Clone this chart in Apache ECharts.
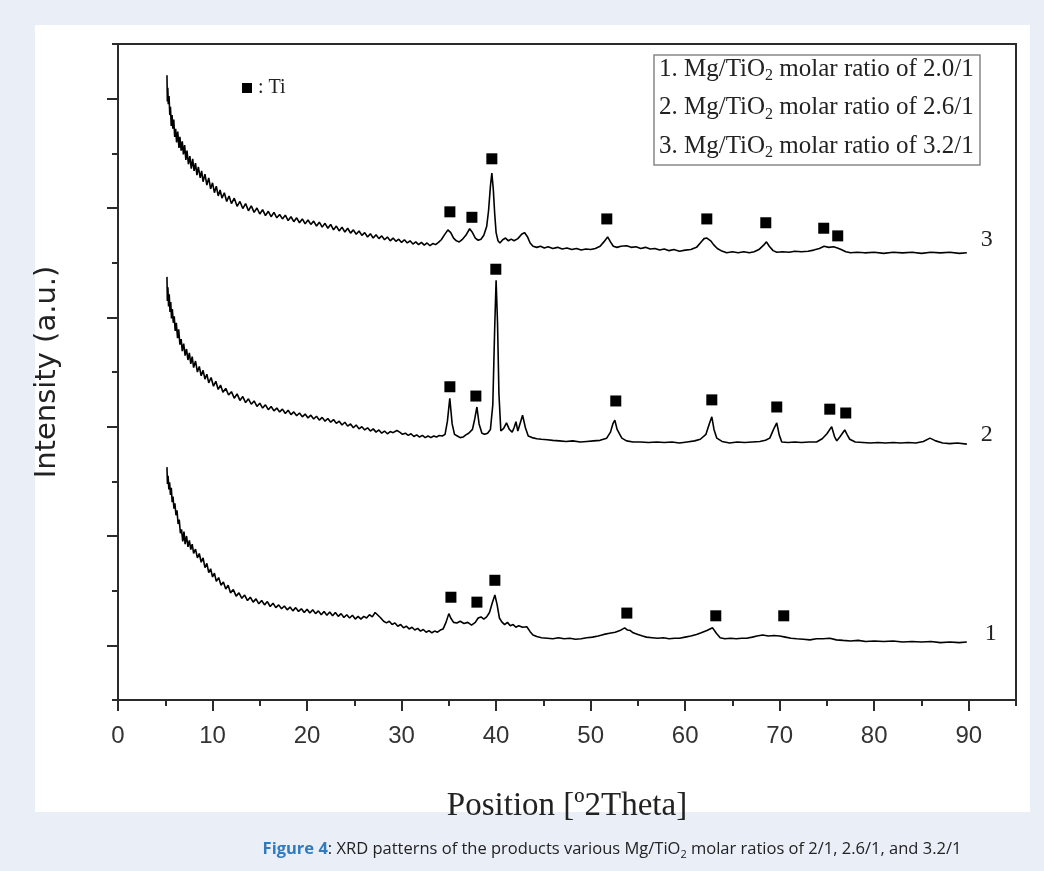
<!DOCTYPE html>
<html>
<head>
<meta charset="utf-8">
<script src="https://cdn.jsdelivr.net/npm/echarts@6.0.0/dist/echarts.min.js"></script>
<style>
html,body{margin:0;padding:0;background:#e9eef7;}
#panel{position:absolute;left:35px;top:25px;width:995px;height:787px;background:#fff;}
#xrd{position:absolute;left:0;top:0;width:1044px;height:871px;}
</style>
</head>
<body>
<div id="panel"></div>
<div id="xrd"></div>
<script>
// tick positions
var xMajor=[0,10,20,30,40,50,60,70,80,90];
var xMinor=[5,15,25,35,45,55,65,75,85,95];
var yMajor=[1,3,5,7,9,11];
var yMinor=[0,2,4,6,8,10,12];

// sample 3 : Mg/TiO2 = 3.2/1 (top trace, offset)
var curve3=[[5.18,11.43],[5.22,10.95],[5.27,11.2],[5.32,10.9],[5.4,11.05],[5.48,10.7],[5.55,10.85],[5.63,10.5],[5.72,10.7],[5.8,10.45],[5.9,10.62],[6.0,10.3],[6.1,10.45],[6.2,10.2],[6.32,10.4],[6.45,10.1],[6.55,10.3],[6.68,10.05],[6.8,10.22],[6.92,9.98],[7.05,10.15],[7.18,9.88],[7.3,10.05],[7.45,9.8],[7.6,9.95],[7.75,9.72],[7.9,9.9],[8.05,9.68],[8.2,9.82],[8.35,9.6],[8.5,9.75],[8.7,9.55],[8.85,9.68],[9.0,9.48],[9.2,9.62],[9.4,9.42],[9.6,9.55],[9.8,9.35],[10.0,9.46],[10.2,9.28],[10.4,9.4],[10.6,9.22],[10.8,9.33],[11.0,9.18],[11.25,9.28],[11.5,9.12],[11.75,9.22],[12.0,9.08],[12.3,9.18],[12.6,9.03],[12.9,9.12],[13.2,8.99],[13.5,9.08],[13.8,8.95],[14.1,9.04],[14.4,8.92],[14.7,9.0],[15.0,8.89],[15.3,8.97],[15.6,8.86],[15.9,8.94],[16.2,8.84],[16.5,8.92],[16.8,8.82],[17.1,8.88],[17.4,8.8],[17.7,8.87],[18.0,8.77],[18.3,8.84],[18.6,8.75],[18.9,8.82],[19.2,8.73],[19.5,8.8],[19.8,8.71],[20.1,8.78],[20.4,8.7],[20.7,8.76],[21.0,8.67],[21.3,8.74],[21.6,8.65],[21.9,8.72],[22.2,8.63],[22.5,8.7],[22.8,8.6],[23.1,8.67],[23.4,8.58],[23.7,8.65],[24.0,8.56],[24.3,8.63],[24.6,8.54],[24.9,8.6],[25.2,8.52],[25.5,8.58],[25.8,8.5],[26.1,8.55],[26.4,8.47],[26.7,8.53],[27.0,8.45],[27.3,8.51],[27.6,8.44],[27.9,8.49],[28.2,8.42],[28.5,8.47],[28.8,8.4],[29.1,8.45],[29.4,8.39],[29.7,8.43],[30.0,8.37],[30.3,8.42],[30.6,8.36],[30.9,8.4],[31.2,8.34],[31.5,8.38],[31.8,8.33],[32.1,8.37],[32.4,8.32],[32.7,8.36],[33.0,8.31],[33.3,8.35],[33.6,8.33],[33.9,8.37],[34.2,8.42],[34.5,8.5],[34.9,8.6],[35.2,8.55],[35.5,8.45],[35.8,8.4],[36.1,8.38],[36.4,8.42],[36.8,8.5],[37.2,8.62],[37.5,8.55],[37.8,8.45],[38.1,8.41],[38.4,8.43],[38.7,8.5],[39.0,8.66],[39.2,8.95],[39.4,9.4],[39.55,9.64],[39.7,9.35],[39.85,8.9],[40.0,8.55],[40.2,8.4],[40.4,8.36],[40.7,8.42],[41.0,8.45],[41.3,8.4],[41.6,8.43],[41.9,8.4],[42.3,8.44],[42.7,8.52],[43.0,8.55],[43.3,8.48],[43.6,8.36],[43.9,8.3],[44.3,8.28],[44.7,8.3],[45.1,8.27],[45.5,8.29],[46.0,8.26],[46.5,8.28],[47.0,8.25],[47.5,8.27],[48.0,8.24],[48.5,8.26],[49.0,8.23],[49.5,8.25],[50.0,8.24],[50.5,8.26],[51.0,8.3],[51.4,8.38],[51.8,8.47],[52.1,8.38],[52.4,8.3],[52.8,8.28],[53.2,8.3],[53.8,8.31],[54.3,8.28],[54.8,8.29],[55.3,8.26],[55.8,8.28],[56.3,8.25],[56.8,8.26],[57.3,8.23],[57.8,8.25],[58.3,8.22],[58.8,8.24],[59.4,8.21],[60.0,8.23],[60.6,8.24],[61.2,8.28],[61.6,8.36],[62.0,8.44],[62.3,8.45],[62.7,8.4],[63.0,8.33],[63.4,8.26],[63.8,8.22],[64.4,8.18],[65.0,8.2],[65.6,8.18],[66.2,8.2],[66.8,8.18],[67.3,8.2],[67.8,8.24],[68.3,8.32],[68.6,8.38],[68.9,8.3],[69.3,8.22],[69.7,8.19],[70.3,8.2],[71.0,8.19],[71.6,8.21],[72.3,8.2],[73.0,8.21],[73.6,8.23],[74.2,8.26],[74.7,8.3],[75.2,8.28],[75.7,8.29],[76.1,8.27],[76.5,8.24],[77.0,8.2],[77.5,8.18],[78.2,8.19],[79.0,8.18],[80.0,8.19],[81.0,8.17],[82.0,8.19],[83.0,8.18],[84.0,8.19],[85.0,8.17],[86.0,8.19],[87.0,8.18],[88.0,8.19],[89.0,8.17],[89.8,8.18]];

// sample 2 : Mg/TiO2 = 2.6/1
var curve2=[[5.18,7.74],[5.22,7.3],[5.28,7.55],[5.35,7.2],[5.42,7.42],[5.5,7.1],[5.58,7.28],[5.66,6.98],[5.75,7.15],[5.85,6.9],[5.95,7.02],[6.05,6.75],[6.17,6.9],[6.3,6.62],[6.42,6.78],[6.55,6.5],[6.68,6.6],[6.8,6.38],[6.95,6.52],[7.1,6.3],[7.25,6.42],[7.4,6.22],[7.55,6.35],[7.7,6.15],[7.85,6.28],[8.0,6.08],[8.2,6.2],[8.4,6.0],[8.6,6.1],[8.8,5.93],[9.0,6.03],[9.2,5.87],[9.4,5.96],[9.6,5.8],[9.85,5.9],[10.1,5.74],[10.35,5.83],[10.6,5.68],[10.85,5.76],[11.1,5.63],[11.4,5.7],[11.7,5.58],[12.0,5.64],[12.3,5.52],[12.6,5.6],[12.9,5.48],[13.2,5.55],[13.5,5.44],[13.8,5.51],[14.1,5.41],[14.4,5.47],[14.7,5.37],[15.0,5.43],[15.3,5.34],[15.6,5.4],[15.9,5.31],[16.2,5.37],[16.5,5.29],[16.8,5.34],[17.1,5.27],[17.4,5.32],[17.7,5.24],[18.0,5.3],[18.3,5.22],[18.6,5.27],[18.9,5.2],[19.2,5.25],[19.5,5.18],[19.8,5.23],[20.1,5.16],[20.4,5.21],[20.7,5.14],[21.0,5.19],[21.3,5.12],[21.6,5.17],[21.9,5.1],[22.2,5.15],[22.5,5.08],[22.8,5.13],[23.1,5.06],[23.4,5.1],[23.7,5.03],[24.0,5.08],[24.3,5.01],[24.6,5.05],[24.9,4.98],[25.2,5.03],[25.5,4.96],[25.8,5.0],[26.1,4.94],[26.4,4.98],[26.7,4.92],[27.0,4.96],[27.3,4.9],[27.6,4.94],[27.9,4.88],[28.2,4.92],[28.5,4.87],[28.8,4.91],[29.1,4.89],[29.5,4.93],[29.8,4.9],[30.1,4.86],[30.4,4.88],[30.7,4.84],[31.0,4.87],[31.3,4.82],[31.6,4.85],[31.9,4.81],[32.2,4.84],[32.5,4.8],[32.8,4.83],[33.1,4.8],[33.4,4.83],[33.7,4.81],[34.0,4.84],[34.3,4.83],[34.6,4.86],[34.85,5.1],[35.1,5.52],[35.35,5.05],[35.6,4.86],[35.9,4.83],[36.2,4.8],[36.5,4.81],[36.8,4.85],[37.1,4.88],[37.5,4.95],[37.75,5.15],[37.97,5.36],[38.2,5.05],[38.5,4.88],[38.8,4.86],[39.1,4.88],[39.4,4.95],[39.65,5.4],[39.85,6.8],[40.0,7.68],[40.15,6.9],[40.3,5.6],[40.5,4.92],[40.8,4.97],[41.1,5.07],[41.4,4.95],[41.7,4.9],[41.9,4.98],[42.1,5.09],[42.3,4.92],[42.5,4.95],[42.8,5.21],[43.1,4.98],[43.4,4.83],[43.8,4.8],[44.3,4.78],[44.8,4.77],[45.4,4.76],[46.0,4.75],[46.7,4.74],[47.4,4.73],[48.1,4.74],[48.9,4.72],[49.6,4.73],[50.3,4.74],[51.0,4.75],[51.7,4.79],[52.1,4.9],[52.35,5.05],[52.56,5.12],[52.8,4.95],[53.3,4.79],[53.8,4.74],[54.5,4.72],[55.3,4.72],[56.1,4.71],[57.0,4.72],[57.8,4.71],[58.6,4.72],[59.4,4.7],[60.2,4.72],[61.0,4.74],[61.6,4.77],[62.2,4.86],[62.55,5.05],[62.82,5.18],[63.05,4.95],[63.35,4.79],[63.9,4.73],[64.7,4.7],[65.5,4.72],[66.3,4.71],[67.1,4.72],[67.9,4.73],[68.5,4.75],[68.95,4.79],[69.35,4.95],[69.69,5.07],[69.95,4.85],[70.22,4.72],[70.9,4.71],[71.6,4.72],[72.3,4.71],[73.1,4.72],[73.9,4.72],[74.5,4.78],[75.0,4.87],[75.5,5.0],[75.8,4.82],[76.04,4.74],[76.4,4.82],[76.88,4.94],[77.15,4.85],[77.41,4.77],[78.0,4.72],[78.8,4.71],[79.6,4.7],[80.4,4.71],[81.2,4.7],[82.0,4.71],[82.8,4.7],[83.6,4.71],[84.4,4.7],[85.2,4.73],[85.9,4.79],[86.5,4.74],[87.25,4.7],[88.0,4.69],[88.8,4.7],[89.8,4.68]];

// sample 1 : Mg/TiO2 = 2.0/1
var curve1=[[5.18,4.26],[5.23,3.95],[5.3,4.1],[5.38,3.85],[5.46,3.98],[5.55,3.75],[5.64,3.88],[5.73,3.62],[5.82,3.72],[5.92,3.5],[6.02,3.6],[6.13,3.38],[6.24,3.47],[6.36,3.22],[6.48,3.3],[6.6,3.05],[6.72,3.12],[6.85,2.9],[6.98,3.08],[7.1,2.85],[7.25,3.0],[7.4,2.8],[7.55,2.92],[7.7,2.75],[7.85,2.85],[8.0,2.68],[8.2,2.76],[8.4,2.6],[8.6,2.68],[8.8,2.52],[9.0,2.6],[9.2,2.42],[9.4,2.5],[9.6,2.33],[9.8,2.4],[10.0,2.25],[10.2,2.32],[10.4,2.17],[10.65,2.24],[10.9,2.1],[11.15,2.16],[11.4,2.03],[11.65,2.1],[11.9,1.96],[12.2,2.02],[12.5,1.9],[12.8,1.96],[13.1,1.86],[13.4,1.92],[13.7,1.82],[14.0,1.88],[14.3,1.79],[14.6,1.85],[14.9,1.76],[15.2,1.82],[15.5,1.74],[15.8,1.8],[16.1,1.71],[16.4,1.77],[16.7,1.69],[17.0,1.74],[17.3,1.67],[17.6,1.72],[17.9,1.65],[18.2,1.7],[18.5,1.63],[18.8,1.69],[19.1,1.62],[19.4,1.67],[19.7,1.6],[20.0,1.66],[20.3,1.59],[20.6,1.65],[20.9,1.58],[21.2,1.63],[21.5,1.56],[21.8,1.62],[22.1,1.55],[22.4,1.61],[22.7,1.54],[23.0,1.6],[23.3,1.53],[23.6,1.58],[23.9,1.51],[24.2,1.56],[24.5,1.5],[24.8,1.55],[25.1,1.48],[25.4,1.53],[25.7,1.48],[26.0,1.53],[26.3,1.5],[26.6,1.56],[26.9,1.52],[27.2,1.6],[27.5,1.55],[27.8,1.5],[28.1,1.44],[28.4,1.41],[28.7,1.44],[29.0,1.38],[29.3,1.41],[29.6,1.35],[29.9,1.38],[30.2,1.32],[30.5,1.35],[30.8,1.3],[31.1,1.33],[31.4,1.28],[31.7,1.31],[32.0,1.26],[32.3,1.29],[32.6,1.24],[32.9,1.27],[33.2,1.23],[33.5,1.26],[33.8,1.24],[34.1,1.28],[34.4,1.3],[34.7,1.42],[35.0,1.58],[35.2,1.5],[35.5,1.42],[35.85,1.41],[36.2,1.44],[36.6,1.4],[37.0,1.42],[37.4,1.37],[37.8,1.42],[38.1,1.5],[38.4,1.52],[38.7,1.48],[39.0,1.52],[39.3,1.6],[39.6,1.78],[39.87,1.92],[40.1,1.75],[40.35,1.5],[40.6,1.43],[40.9,1.38],[41.2,1.42],[41.5,1.36],[41.8,1.38],[42.1,1.33],[42.4,1.36],[42.8,1.33],[43.25,1.34],[43.6,1.25],[43.9,1.19],[44.3,1.16],[44.8,1.14],[45.4,1.13],[46.0,1.12],[46.6,1.14],[47.2,1.12],[47.8,1.13],[48.4,1.11],[49.0,1.12],[49.6,1.14],[50.2,1.15],[50.8,1.17],[51.4,1.2],[52.0,1.22],[52.6,1.24],[53.1,1.27],[53.6,1.32],[53.9,1.28],[54.2,1.27],[54.5,1.23],[55.0,1.2],[55.5,1.17],[55.9,1.15],[56.5,1.14],[57.1,1.13],[57.7,1.14],[58.3,1.12],[58.9,1.13],[59.4,1.13],[60.0,1.15],[60.6,1.17],[61.2,1.2],[61.7,1.23],[62.3,1.27],[62.9,1.32],[63.3,1.22],[63.7,1.14],[64.2,1.12],[64.8,1.13],[65.4,1.12],[66.0,1.13],[66.5,1.13],[67.1,1.15],[67.6,1.17],[68.2,1.19],[68.8,1.17],[69.4,1.18],[70.0,1.17],[70.6,1.15],[71.2,1.13],[71.8,1.12],[72.5,1.11],[73.2,1.1],[73.9,1.12],[74.6,1.12],[75.3,1.13],[76.0,1.1],[76.7,1.09],[77.5,1.08],[78.3,1.09],[79.1,1.07],[80.0,1.08],[81.0,1.07],[82.0,1.08],[83.0,1.06],[84.0,1.07],[85.0,1.06],[86.0,1.07],[87.0,1.05],[88.0,1.06],[89.0,1.05],[89.8,1.06]];

// Ti reflection markers (■) above each trace
var tiMarks3=[[35.11,8.93],[37.44,8.83],[39.55,9.90],[51.71,8.80],[62.29,8.80],[68.53,8.73],[74.66,8.63],[76.14,8.49]];
var tiMarks2=[[35.11,5.73],[37.86,5.56],[39.97,7.88],[52.66,5.47],[62.82,5.49],[69.69,5.36],[75.30,5.32],[76.99,5.25]];
var tiMarks1=[[35.22,1.88],[37.97,1.79],[39.87,2.19],[53.83,1.59],[63.24,1.54],[70.43,1.54]];

var legendLines=['1. Mg/TiO{s|2} molar ratio of 2.0/1','2. Mg/TiO{s|2} molar ratio of 2.6/1','3. Mg/TiO{s|2} molar ratio of 3.2/1'];

var chart=echarts.init(document.getElementById('xrd'));
var serif='"Liberation Serif","Times New Roman",serif';
var axisCol='#2b2b2b';
var txtCol='#222';

function traceSeries(data,num,off)
{
	return {
		type:'line',
		data:data,
		showSymbol:false,
		symbol:'none',
		lineStyle:{color:'#000',width:1.6},
		endLabel:{
			show:true,
			formatter:num,
			fontFamily:serif,
			fontSize:24,
			color:txtCol,
			distance:14,
			offset:off
		},
		z:3
	};
}
function markSeries(data)
{
	return {
		type:'scatter',
		data:data,
		symbol:'rect',
		symbolSize:11,
		itemStyle:{color:'#000',opacity:1},
		z:4
	};
}

var legendText=[];
for(var i=0;i<legendLines.length;i++){
	legendText.push({
		type:'text',
		x:659,
		y:69+i*38.5,
		style:{
			text:'{n|'+legendLines[i].replace('{s|2}','}{s|2}{n|')+'}',
			align:'left',
			verticalAlign:'middle',
			rich:{
				n:{fontFamily:serif,fontSize:25,lineHeight:30,fill:txtCol,verticalAlign:'middle'},
				s:{fontFamily:serif,fontSize:16,lineHeight:12,fill:txtCol,verticalAlign:'bottom'}
			}
		}
	});
}

var capFont='"Open Sans","Noto Sans",sans-serif';
var option={
	animation:false,
	backgroundColor:'transparent',
	grid:{left:118,right:28,top:44,bottom:171,show:true,borderColor:axisCol,borderWidth:2,backgroundColor:'transparent'},
	xAxis:[
		{
			type:'value',min:0,max:95,position:'bottom',
			axisLine:{show:true,lineStyle:{color:axisCol,width:2}},
			axisTick:{show:true,customValues:xMajor,length:11,lineStyle:{color:axisCol,width:2}},
			axisLabel:{show:true,customValues:xMajor,margin:24,fontSize:24,color:'#333',fontFamily:'"Liberation Sans",Arial,sans-serif'},
			splitLine:{show:false},
			name:'Position [º2Theta]',
			nameLocation:'middle',
			nameGap:90,
			nameTextStyle:{fontFamily:serif,fontSize:33,color:txtCol}
		},
		{
			type:'value',min:0,max:95,position:'bottom',
			axisLine:{show:false},
			axisTick:{show:true,customValues:xMinor,length:6,lineStyle:{color:axisCol,width:2}},
			axisLabel:{show:false},
			splitLine:{show:false}
		}
	],
	yAxis:[
		{
			type:'value',min:0,max:12,position:'left',
			axisLine:{show:true,lineStyle:{color:axisCol,width:2}},
			axisTick:{show:true,customValues:yMajor,length:11,lineStyle:{color:axisCol,width:2}},
			axisLabel:{show:false},
			splitLine:{show:false},
			name:'Intensity (a.u.)',
			nameLocation:'middle',
			nameGap:56,
			nameTextStyle:{fontFamily:'"DejaVu Sans",Verdana,sans-serif',fontSize:29,color:txtCol}
		},
		{
			type:'value',min:0,max:12,position:'left',
			axisLine:{show:false},
			axisTick:{show:true,customValues:yMinor,length:6,lineStyle:{color:axisCol,width:2}},
			axisLabel:{show:false},
			splitLine:{show:false}
		}
	],
	series:[
		traceSeries(curve3,'3',[0,-13]),
		traceSeries(curve2,'2',[0,-9]),
		traceSeries(curve1,'1',[4,-8]),
		markSeries(tiMarks3),
		markSeries(tiMarks2),
		markSeries(tiMarks1)
	],
	graphic:[
		{type:'rect',shape:{x:242,y:83,width:10,height:10},style:{fill:'#000'}},
		{type:'text',x:258,y:88,style:{text:': Ti',font:'20px '+serif,fill:txtCol,align:'left',verticalAlign:'middle'}},
		{type:'rect',shape:{x:654,y:55,width:326,height:110},style:{fill:'#fff',stroke:'#888',lineWidth:1.5}},
		{type:'group',children:legendText},
		{
			type:'text',x:612,y:849,
			style:{
				text:'{b|Figure 4}{n|: XRD patterns of the products various Mg/TiO}{s|2}{n| molar ratios of 2/1, 2.6/1, and 3.2/1}',
				align:'center',verticalAlign:'middle',
				rich:{
					b:{fontFamily:capFont,fontSize:16.5,fontWeight:'bold',fill:'#2f7bbf',lineHeight:22,verticalAlign:'middle'},
					n:{fontFamily:capFont,fontSize:16.5,fill:'#222',lineHeight:22,verticalAlign:'middle'},
					s:{fontFamily:capFont,fontSize:11,fill:'#222',lineHeight:9,verticalAlign:'bottom'}
				}
			}
		}
	]
};
chart.setOption(option);
window.onresize=chart.resize;
</script>
</body>
</html>
